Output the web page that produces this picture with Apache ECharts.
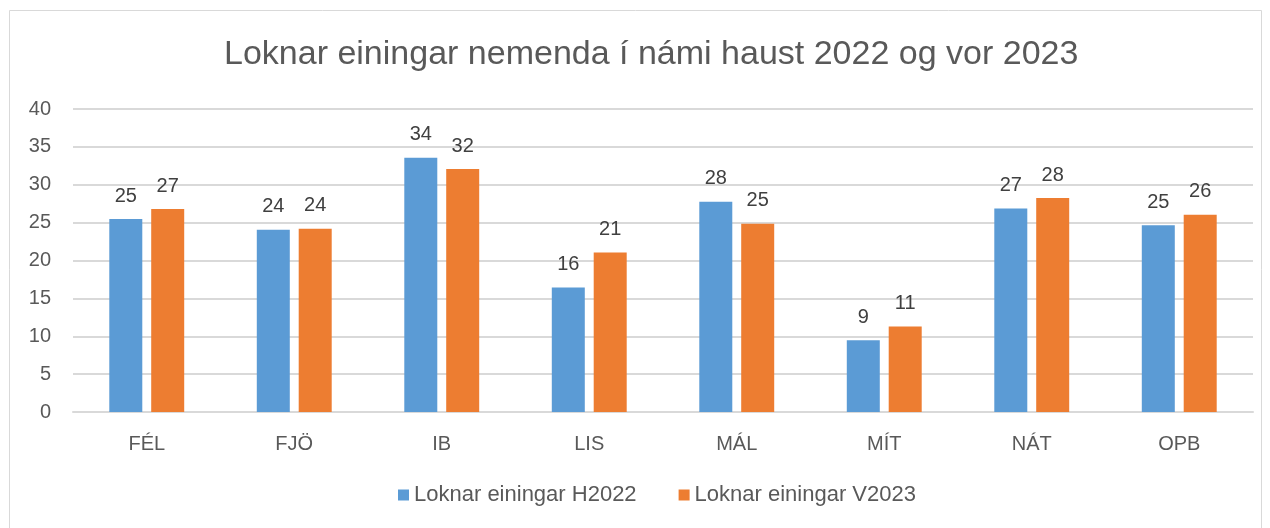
<!DOCTYPE html>
<html>
<head>
<meta charset="utf-8">
<script src="https://cdn.jsdelivr.net/npm/echarts@6/dist/echarts.min.js"></script>
<style>
  html, body { margin: 0; padding: 0; background: #fff; }
  #chart { width: 1270px; height: 528px; }
</style>
</head>
<body>
<div id="chart"></div>
<script>
const categories = ['FÉL', 'FJÖ', 'IB', 'LIS', 'MÁL', 'MÍT', 'NÁT', 'OPB']
const h2022 = [25.47, 24.07, 33.56, 16.43, 27.76, 9.47, 26.88, 24.64]
const v2023 = [26.8, 24.2, 32.07, 21.04, 24.86, 11.29, 28.25, 26.05]
const seriesNames = ['Loknar einingar H2022', 'Loknar einingar V2023']
const yTicks = { min: 0, max: 40, interval: 5 }

const font = 'Liberation Sans, sans-serif'
const chart = echarts.init(document.getElementById('chart'))

const barLabel = {
  show: true,
  position: 'top',
  distance: 13,
  color: '#404040',
  fontSize: 20,
  fontFamily: font,
  formatter: (p) => Math.round(p.value),
}

chart.setOption({
  backgroundColor: '#fff',
  animation: false,
  title: {
    text: 'Loknar einingar nemenda í námi haust 2022 og vor 2023',
    left: 219,
    top: 33,
    textStyle: {
      color: '#595959',
      fontSize: 34,
      fontWeight: 'normal',
      fontFamily: font,
    },
  },
  graphic: [
    {
      type: 'rect',
      shape: { x: 9.5, y: 10.5, width: 1252, height: 530 },
      style: { fill: 'none', stroke: '#d9d9d9', lineWidth: 1 },
      silent: true,
    },
  ],
  legend: {
    bottom: 17,
    left: 393,
    itemWidth: 11,
    itemHeight: 11,
    itemGap: 42,
    icon: 'rect',
    textStyle: { color: '#595959', fontSize: 22, fontFamily: font },
  },
  grid: { left: 73, right: 17, top: 109, bottom: 116 },
  xAxis: {
    type: 'category',
    data: categories,
    axisLine: { lineStyle: { color: '#d9d9d9', width: 2 } },
    axisTick: { show: false },
    axisLabel: { color: '#595959', fontSize: 20, fontFamily: font, margin: 22 },
  },
  yAxis: {
    type: 'value',
    min: yTicks.min,
    max: yTicks.max,
    interval: yTicks.interval,
    axisLine: { show: false },
    axisTick: { show: false },
    splitLine: { lineStyle: { color: '#d9d9d9', width: 2 } },
    axisLabel: { color: '#595959', fontSize: 20, fontFamily: font, margin: 22 },
  },
  series: [
    {
      name: seriesNames[0],
      type: 'bar',
      data: h2022,
      barWidth: 33,
      barGap: '27%',
      itemStyle: { color: '#5b9bd5' },
      label: barLabel,
    },
    {
      name: seriesNames[1],
      type: 'bar',
      data: v2023,
      barWidth: 33,
      barGap: '27%',
      itemStyle: { color: '#ed7d31' },
      label: barLabel,
    },
  ],
})
</script>
</body>
</html>
